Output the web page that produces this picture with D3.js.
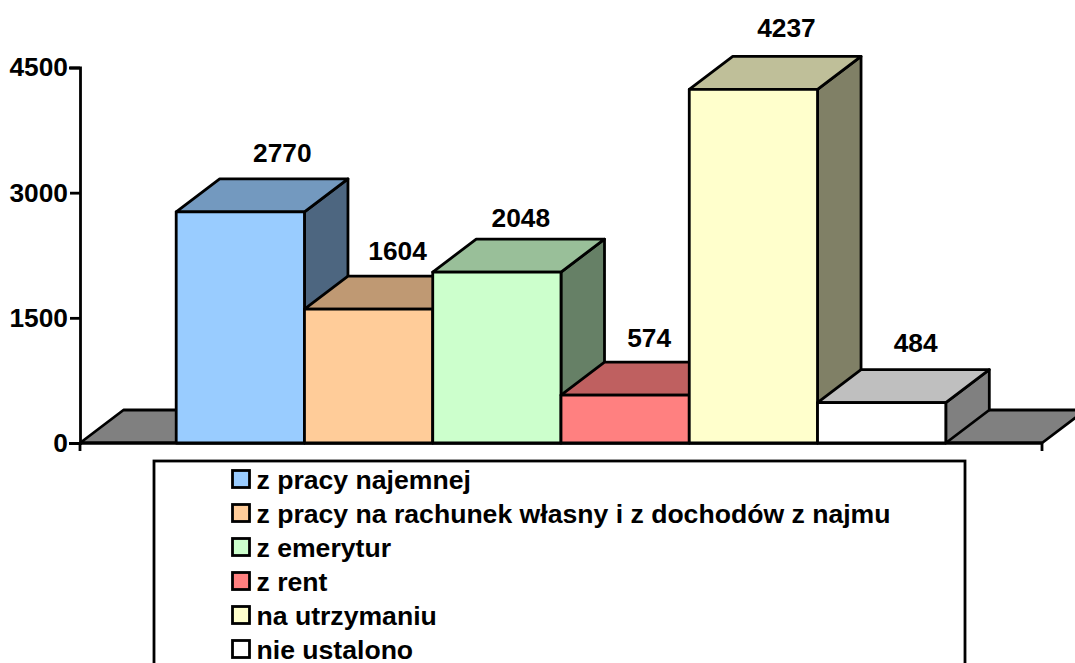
<!DOCTYPE html>
<html>
<head>
<meta charset="utf-8">
<script src="https://cdn.jsdelivr.net/npm/d3@7"></script>
<style>
  html, body { margin: 0; padding: 0; background: #fff; overflow: hidden; }
  text { font-family: "Liberation Sans", Arial, sans-serif; font-weight: bold; font-size: 26.3px; fill: #000; }
  .legend text { font-size: 26.6px; }
</style>
</head>
<body>
<div id="chart"></div>
<script>
var categories = ["z pracy najemnej", "z pracy na rachunek własny i z dochodów z najmu",
    "z emerytur", "z rent", "na utrzymaniu", "nie ustalono"];
var values = [2770, 1604, 2048, 574, 4237, 484];
var colors = ["#99ccff", "#ffcc99", "#ccffcc", "#ff8080", "#ffffcc", "#ffffff"];
var yTicks = [0, 1500, 3000, 4500];

var width = 1075, height = 663;
var margin = {left: 80, right: 33, top: 67.5, bottom: 220};
var depthX = 43.5, depthY = 33;
var lineW = 2.8;

// data labels in the original were dragged by hand, offset from the default spot
var labelNudgeX = [0, -13, -18, -18, -9, -8];
var labelNudgeY = [0, 1, 5, 2, -2, -1];

var svg = d3.select("#chart").append("svg")
    .attr("width", width)
    .attr("height", height)
    .style("display", "block");

var x = d3.scaleBand()
    .domain(categories)
    .range([margin.left, width - margin.right])
    .paddingInner(0)
    .paddingOuter(0.75);

var y = d3.scaleLinear()
    .domain([0, 4500])
    .range([height - margin.bottom, margin.top]);

var y0 = y(0);

function shade(c, k) {
    var r = d3.rgb(c);
    return d3.rgb(r.r * k, r.g * k, r.b * k).formatHex();
}

function poly(points) {
    return points.map(function(p) { return p.join(","); }).join(" ");
}

// floor
svg.append("polygon")
    .attr("points", poly([
        [margin.left, y0],
        [margin.left + depthX, y0 - depthY],
        [width - margin.right + depthX, y0 - depthY],
        [width - margin.right, y0]
    ]))
    .attr("fill", "#808080")
    .attr("stroke", "#000")
    .attr("stroke-width", lineW)
    .attr("stroke-linejoin", "round");

// axes
var yAxis = d3.axisLeft(y).tickValues(yTicks).tickSize(11).tickPadding(1).tickFormat(d3.format("d"));
var yG = svg.append("g").attr("transform", "translate(" + margin.left + ",0)").call(yAxis);
yG.selectAll("line").attr("stroke", "#000").attr("stroke-width", lineW).attr("x2", -10).attr("x1", 0);
yG.select(".domain").attr("stroke", "#000").attr("stroke-width", lineW);
yG.selectAll("text").attr("dy", "0.32em").style("font-family", "Liberation Sans").style("font-size", "26.3px");

svg.append("line")
    .attr("x1", margin.left).attr("x2", width - margin.right)
    .attr("y1", y0).attr("y2", y0)
    .attr("stroke", "#000").attr("stroke-width", lineW);
svg.append("line")
    .attr("x1", margin.left).attr("x2", margin.left)
    .attr("y1", y0).attr("y2", y0 + 8)
    .attr("stroke", "#000").attr("stroke-width", lineW);
svg.append("line")
    .attr("x1", width - margin.right).attr("x2", width - margin.right)
    .attr("y1", y0).attr("y2", y0 + 8)
    .attr("stroke", "#000").attr("stroke-width", lineW);

// bars, painted left to right so each one covers the side of the last
var bars = svg.selectAll(".bar")
    .data(values)
    .enter()
    .append("g")
    .attr("class", "bar")
    .attr("stroke", "#000")
    .attr("stroke-width", lineW)
    .attr("stroke-linejoin", "round");

bars.append("polygon")
    .attr("points", function(d, i) {
        var r = x(categories[i]) + x.bandwidth();
        return poly([[r, y(d)], [r + depthX, y(d) - depthY], [r + depthX, y0 - depthY], [r, y0]]);
    })
    .attr("fill", function(d, i) { return shade(colors[i], 0.5); });

bars.append("polygon")
    .attr("points", function(d, i) {
        var l = x(categories[i]), r = l + x.bandwidth();
        return poly([[l, y(d)], [l + depthX, y(d) - depthY], [r + depthX, y(d) - depthY], [r, y(d)]]);
    })
    .attr("fill", function(d, i) { return shade(colors[i], 0.75); });

bars.append("rect")
    .attr("x", function(d, i) { return x(categories[i]); })
    .attr("y", function(d) { return y(d); })
    .attr("width", x.bandwidth())
    .attr("height", function(d) { return y0 - y(d); })
    .attr("fill", function(d, i) { return colors[i]; });

svg.selectAll(".value")
    .data(values)
    .enter()
    .append("text")
    .attr("class", "value")
    .attr("text-anchor", "middle")
    .attr("x", function(d, i) { return x(categories[i]) + x.bandwidth() / 2 + 42 + labelNudgeX[i]; })
    .attr("y", function(d, i) { return y(d) - depthY - 17 + labelNudgeY[i]; })
    .text(function(d) { return d; });

// legend, runs off the bottom of the picture
svg.append("rect")
    .attr("x", 154).attr("y", 461)
    .attr("width", 811).attr("height", 230)
    .attr("fill", "#fff")
    .attr("stroke", "#000")
    .attr("stroke-width", lineW);

var legend = svg.selectAll(".legend")
    .data(categories)
    .enter()
    .append("g")
    .attr("class", "legend")
    .attr("transform", function(d, i) { return "translate(232.5," + (470.5 + i * 34) + ")"; });

legend.append("rect")
    .attr("width", 17).attr("height", 17)
    .attr("fill", function(d, i) { return colors[i]; })
    .attr("stroke", "#000")
    .attr("stroke-width", lineW);

legend.append("text")
    .attr("x", 24).attr("y", 18)
    .text(function(d) { return d; });
</script>
</body>
</html>
